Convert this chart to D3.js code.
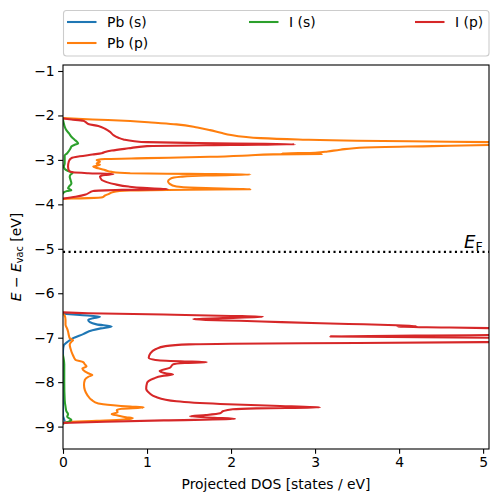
<!DOCTYPE html>
<html><head><meta charset="utf-8">
<script src="https://cdn.jsdelivr.net/npm/d3@7"></script>
<style>body{margin:0;background:#fff} svg{display:block} text{font-family:"DejaVu Sans",sans-serif}</style>
</head><body><svg id="c" width="499" height="502"></svg>
<script>
// ---------- data: [energy (eV), projected DOS (states/eV)]; null separates bands ----------
const seriesNames = ["Pb (s)", "Pb (p)", "I (s)", "I (p)"];
const seriesColors = ["#1f77b4", "#ff7f0e", "#2ca02c", "#d62728"];

const pbS = [
  [-6.46,0],[-6.49,0.2],[-6.53,0.44],[-6.56,0.36],[-6.6,0.3],[-6.65,0.32],[-6.7,0.4],[-6.75,0.58],
  [-6.79,0.45],[-6.83,0.35],[-6.92,0.24],[-7.01,0.12],[-7.1,0.05],[-7.17,0.01],[-7.3,0],
  [-8.75,0],[-8.82,0.01],[-8.88,0.02],[-8.93,0]
];

const pbP = [
  [-2.06,0],[-2.09,0.35],[-2.125,0.8],[-2.16,1.05],[-2.2,1.35],[-2.27,1.6],[-2.33,1.75],[-2.39,1.88],
  [-2.44,2.0],[-2.48,2.15],[-2.51,2.35],[-2.54,2.8],[-2.57,3.5],[-2.59,4.6],[-2.61,5.5],[-2.63,6.5],
  [-2.665,5.07],[-2.69,4.4],[-2.72,3.6],[-2.77,3.3],[-2.81,3.15],[-2.84,3.0],[-2.855,2.6],[-2.865,3.08],
  [-2.875,2.5],[-2.9,2.2],[-2.93,1.75],[-2.96,1.0],[-2.98,0.5],[-3.0,0.4],[-3.04,0.44],[-3.08,0.4],
  [-3.11,0.44],[-3.15,0.36],[-3.19,0.42],[-3.23,0.5],[-3.27,0.58],[-3.3,0.8],[-3.315,1.5],[-3.33,2.23],
  [-3.35,1.7],[-3.38,1.4],[-3.42,1.28],[-3.48,1.25],[-3.54,1.27],[-3.6,1.35],[-3.63,1.6],[-3.66,2.23],
  [-3.67,1.5],[-3.69,0.8],[-3.72,0.6],[-3.77,0.54],[-3.8,0.5],[-3.84,0.47],[-3.86,0.3],[-3.87,0.1],[-3.88,0],
  null,
  [-6.46,0],[-6.5,0.02],[-6.6,0.03],[-6.71,0.03],[-6.8,0.05],[-6.86,0.06],[-6.95,0.07],[-7.01,0.08],
  [-7.06,0.12],[-7.09,0.1],[-7.16,0.08],[-7.25,0.09],[-7.31,0.1],[-7.4,0.12],[-7.5,0.15],[-7.55,0.24],
  [-7.6,0.26],[-7.65,0.28],[-7.69,0.23],[-7.76,0.26],[-7.8,0.3],[-7.84,0.35],[-7.88,0.3],[-7.95,0.26],
  [-8.06,0.25],[-8.18,0.26],[-8.29,0.29],[-8.4,0.34],[-8.48,0.42],[-8.52,0.6],[-8.55,0.8],[-8.57,0.96],
  [-8.6,0.7],[-8.63,0.64],[-8.68,0.65],[-8.72,0.58],[-8.75,0.65],[-8.79,0.75],[-8.81,0.83],[-8.84,0.72],
  [-8.87,0.4],[-8.9,0.05],[-8.93,0]
];

const iS = [
  [-2.1,0],[-2.18,0.01],[-2.25,0.02],[-2.33,0.04],[-2.4,0.07],[-2.48,0.1],[-2.55,0.14],[-2.6,0.17],
  [-2.63,0.18],[-2.66,0.14],[-2.7,0.1],[-2.74,0.09],[-2.8,0.07],[-2.85,0.05],[-2.9,0.02],[-3.0,0.02],
  [-3.08,0.02],[-3.15,0.01],[-3.2,0.02],[-3.25,0.06],[-3.29,0.115],[-3.33,0.09],[-3.38,0.08],[-3.45,0.09],
  [-3.53,0.1],[-3.58,0.08],[-3.64,0.06],[-3.68,0.1],[-3.7,0.05],[-3.72,0.02],[-3.75,0],
  null,
  [-7.4,0],[-7.5,0.01],[-7.6,0.015],[-8.0,0.015],[-8.4,0.02],[-8.55,0.03],[-8.65,0.04],[-8.72,0.06],
  [-8.78,0.05],[-8.85,0.1],[-8.9,0.05],[-8.93,0]
];

const iP = [
  [-2.07,0],[-2.09,0.1],[-2.12,0.24],[-2.15,0.27],[-2.19,0.3],[-2.24,0.42],[-2.3,0.5],[-2.37,0.56],
  [-2.44,0.6],[-2.5,0.66],[-2.54,0.72],[-2.58,0.85],[-2.6,1.0],[-2.62,1.6],[-2.64,2.4],[-2.65,2.76],
  [-2.665,2.0],[-2.69,1.0],[-2.74,0.78],[-2.79,0.58],[-2.82,0.5],[-2.85,0.46],[-2.88,0.35],[-2.92,0.2],
  [-2.96,0.1],[-3.03,0.07],[-3.15,0.06],[-3.24,0.07],[-3.28,0.12],[-3.3,0.3],[-3.32,0.6],[-3.34,0.5],
  [-3.37,0.44],[-3.45,0.46],[-3.5,0.52],[-3.55,0.62],[-3.6,0.78],[-3.63,0.95],[-3.66,1.25],[-3.675,0.7],
  [-3.7,0.36],[-3.73,0.32],[-3.78,0.27],[-3.83,0.15],[-3.87,0],
  null,
  [-6.43,0],[-6.45,0.3],[-6.48,1.2],[-6.51,2.0],[-6.53,2.38],[-6.56,1.9],[-6.58,1.55],[-6.6,1.7],
  [-6.62,2.1],[-6.65,2.6],[-6.69,3.4],[-6.72,3.97],[-6.74,4.21],[-6.755,3.98],[-6.77,4.6],[-6.79,5.2],
  [-6.87,6.5],[-6.94,5.1],[-6.97,3.18],[-7.0,5.1],[-7.05,7.0],[-7.1,5.0],[-7.12,3.5],[-7.135,2.0],
  [-7.15,1.5],[-7.19,1.22],[-7.26,1.1],[-7.35,1.04],[-7.45,1.02],[-7.5,1.1],[-7.53,1.4],[-7.55,1.71],
  [-7.57,1.45],[-7.6,1.31],[-7.68,1.27],[-7.75,1.15],[-7.8,1.22],[-7.83,1.31],[-7.86,1.18],[-7.92,1.08],
  [-8.02,1.0],[-8.15,0.99],[-8.25,1.03],[-8.33,1.1],[-8.43,1.35],[-8.49,1.87],[-8.53,2.5],[-8.57,3.06],
  [-8.59,2.3],[-8.61,2.02],[-8.65,1.91],[-8.7,1.87],[-8.74,1.7],[-8.77,1.51],[-8.8,1.8],[-8.83,2.05],
  [-8.86,1.2],[-8.89,0.5],[-8.92,0]
];

const seriesData = [pbS, pbP, iS, iP];
const xTicks = [0, 1, 2, 3, 4, 5];
const yTicks = [-1, -2, -3, -4, -5, -6, -7, -8, -9];
const xDomain = [0, 5.07];
const yDomain = [-0.865, -9.504];
const fermiLevel = -5.07;

// ---------- layout ----------
const L = 63, R = 489, T = 65, B = 449;
const FS = 13.9;
const svg = d3.select("#c");
const x = d3.scaleLinear().domain(xDomain).range([L, R]);
const y = d3.scaleLinear().domain(yDomain).range([T, B]);

svg.append("defs").append("clipPath").attr("id", "clip")
  .append("rect").attr("x", L).attr("y", T).attr("width", R - L).attr("height", B - T);

const line = d3.line().defined(d => d !== null).x(d => x(d[1])).y(d => y(d[0])).curve(d3.curveMonotoneY);
const g = svg.append("g").attr("clip-path", "url(#clip)");
seriesData.forEach((s, i) => {
  g.append("path").attr("d", line(s)).attr("fill", "none")
    .attr("stroke", seriesColors[i]).attr("stroke-width", 2.08)
    .attr("stroke-linejoin", "round").attr("stroke-linecap", "square");
});

// Fermi level
g.append("line").attr("x1", L).attr("x2", R).attr("y1", y(fermiLevel)).attr("y2", y(fermiLevel))
  .attr("stroke", "#000").attr("stroke-width", 2.08).attr("stroke-dasharray", "2.08,3.44");

const ef = svg.append("text").attr("x", 464).attr("y", 248).attr("font-size", 18).attr("fill", "#000");
ef.append("tspan").attr("font-style", "italic").text("E");
ef.append("tspan").attr("font-size", 12.6).attr("dy", 2.6).text("F");

// axes
const xAxis = svg.append("g").attr("transform", `translate(0,${B})`)
  .call(d3.axisBottom(x).tickValues(xTicks).tickFormat(d3.format("d")).tickSize(4.86).tickPadding(3.5));
const yAxis = svg.append("g").attr("transform", `translate(${L},0)`)
  .call(d3.axisLeft(y).tickValues(yTicks).tickFormat(d3.format("d")).tickSize(4.86).tickPadding(3.5));
[xAxis, yAxis].forEach(a => {
  a.select(".domain").remove();
  a.selectAll(".tick line").attr("stroke", "#000").attr("stroke-width", 1.1);
  a.selectAll(".tick text").attr("font-size", FS).attr("fill", "#000").attr("font-family", "DejaVu Sans");
});

svg.append("rect").attr("x", L).attr("y", T).attr("width", R - L).attr("height", B - T)
  .attr("fill", "none").attr("stroke", "#000").attr("stroke-width", 1.1);

// axis labels
svg.append("text").attr("x", (L + R) / 2).attr("y", 489).attr("text-anchor", "middle")
  .attr("font-size", FS).attr("fill", "#000").text("Projected DOS [states / eV]");
const yl = svg.append("text").attr("transform", `translate(21,${(T + B) / 2}) rotate(-90)`)
  .attr("text-anchor", "middle").attr("font-size", FS).attr("fill", "#000");
yl.append("tspan").attr("font-style", "italic").text("E");
yl.append("tspan").text(" \u2212 ");
yl.append("tspan").attr("font-style", "italic").text("E");
yl.append("tspan").attr("font-size", 9.7).attr("dy", 2.4).text("vac");
yl.append("tspan").attr("dy", -2.4).text(" [eV]");

// legend
const lg = svg.append("g");
lg.append("rect").attr("x", 63.5).attr("y", 10.5).attr("width", 425.5).attr("height", 45.5)
  .attr("rx", 3).attr("fill", "#fff").attr("stroke", "#cccccc").attr("stroke-width", 1.1);
const legendPos = [[67, 22], [67, 43], [249, 22], [415, 22]];
seriesNames.forEach((n, i) => {
  const [lx, ly] = legendPos[i];
  lg.append("line").attr("x1", lx).attr("x2", lx + 29.5).attr("y1", ly).attr("y2", ly)
    .attr("stroke", seriesColors[i]).attr("stroke-width", 2.08);
  lg.append("text").attr("x", lx + 40).attr("y", ly + 5).attr("font-size", FS).attr("fill", "#000").text(n);
});
</script></body></html>
